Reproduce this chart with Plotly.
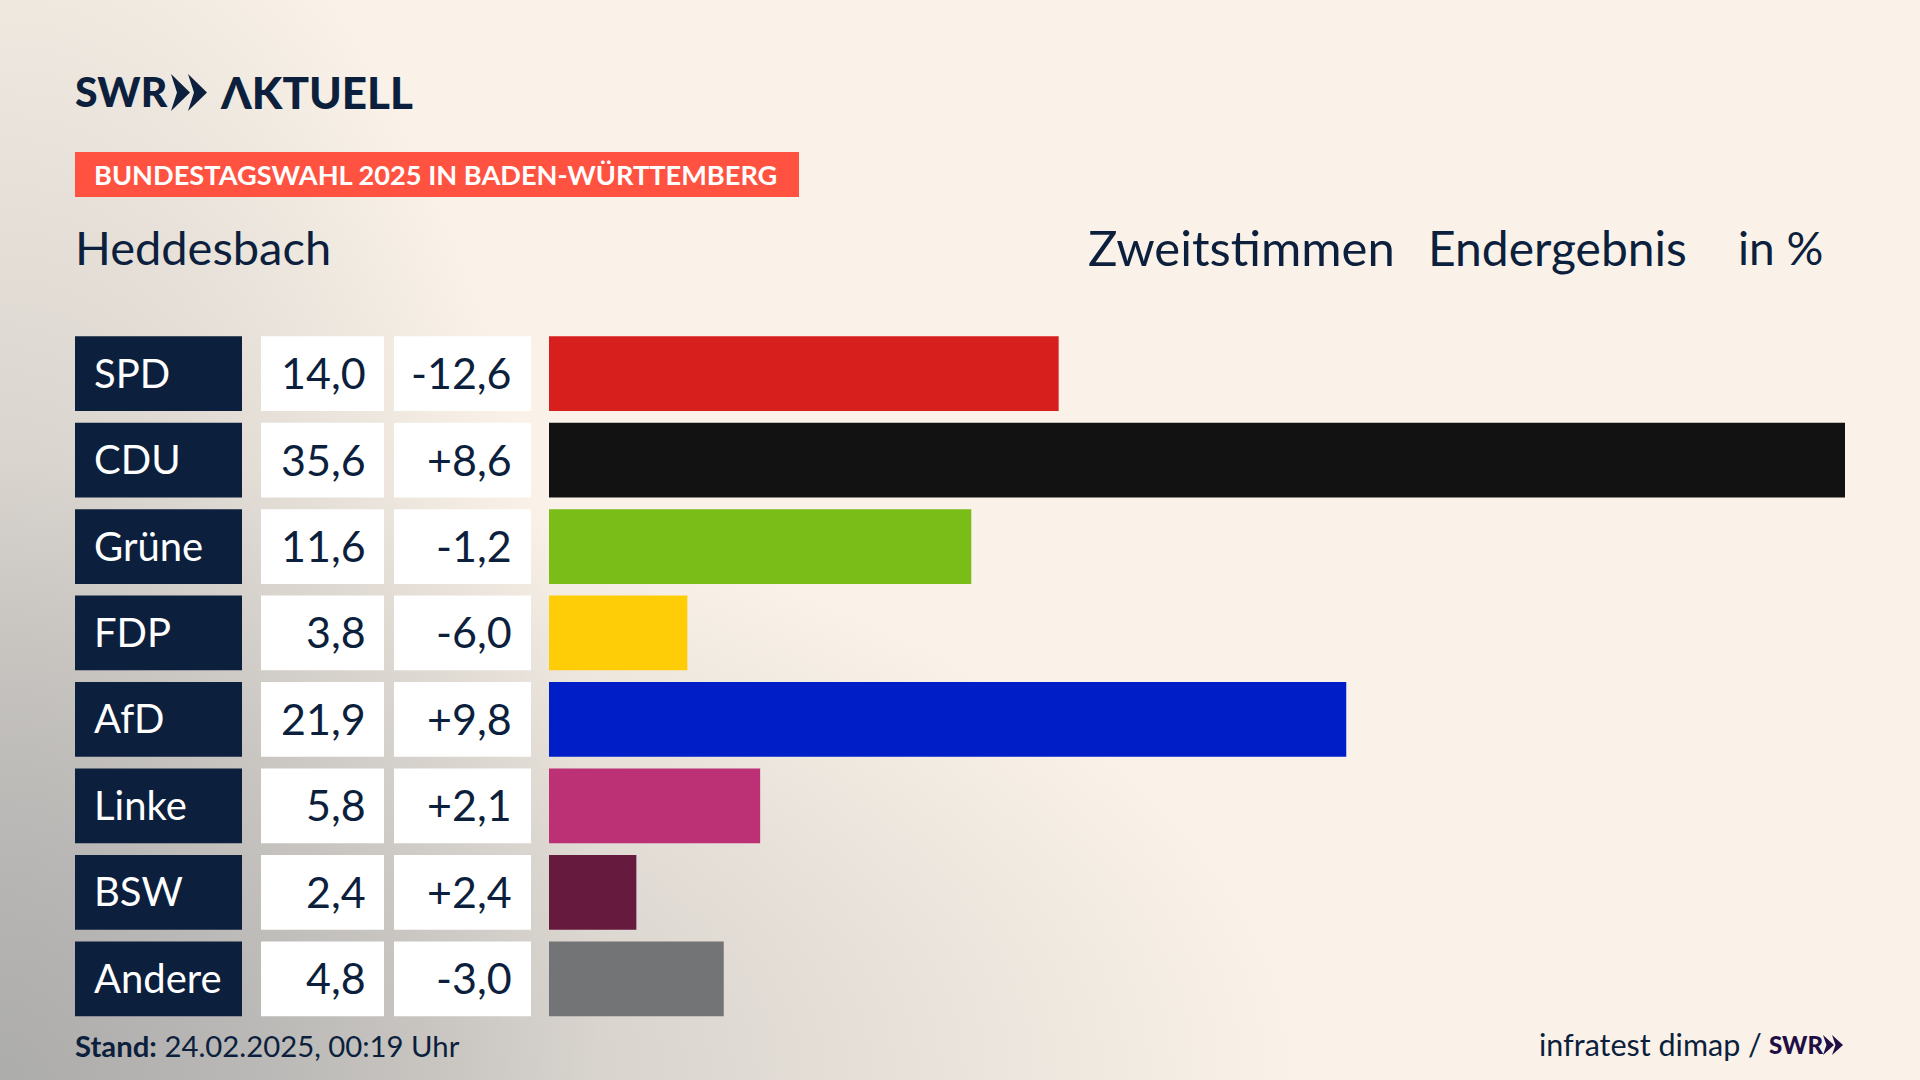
import base64
import plotly.graph_objects as go

# --- data ---
parties = ["SPD", "CDU", "Grüne", "FDP", "AfD", "Linke", "BSW", "Andere"]
results = [14.0, 35.6, 11.6, 3.8, 21.9, 5.8, 2.4, 4.8]
changes = [-12.6, 8.6, -1.2, -6.0, 9.8, 2.1, 2.4, -3.0]
party_colors = ["#D71F1D", "#121212", "#7ABD19", "#FFCC08", "#001EC8", "#BC3075", "#661A3D", "#737475"]

W, H = 1920, 1080
NAVY = "#0C1F3D"
FONT = "Lato"


def px(x):
    return x / W


def py(y):
    return 1 - y / H


def domx(a, b):
    return [px(a), px(b)]


def fmt(v, sign=False):
    s = f"{v:+.1f}" if sign else f"{v:.1f}"
    return s.replace(".", ",")


def text(x, y, s, size, color=NAVY, weight=400):
    return dict(x=px(x), y=py(y), xref="paper", yref="paper", text=s, showarrow=False,
                xanchor="left", yanchor="middle",
                font=dict(family=FONT, size=size, color=color, weight=weight))


def chevrons(x, y0, y1, w, notch, dx, color):
    ym = (y0 + y1) / 2
    out = []
    for xx in (x, x + dx):
        pts = [(xx, y0), (xx + w, ym), (xx, y1), (xx + notch, ym)]
        path = "M " + " L ".join(f"{px(a):.5f},{py(b):.5f}" for a, b in pts) + " Z"
        out.append(dict(type="path", xref="paper", yref="paper", path=path, fillcolor=color, line_width=0))
    return out


# background: grey haze along the left and bottom edges
stops = '<stop offset="0" stop-color="#a8a8a8" stop-opacity="0.75"/>' \
        '<stop offset="0.5" stop-color="#a8a8a8" stop-opacity="0.38"/>' \
        '<stop offset="1" stop-color="#a8a8a8" stop-opacity="0"/>'
svg = f"""<svg xmlns="http://www.w3.org/2000/svg" width="{W}" height="{H}">
<defs>
<radialGradient id="a" gradientUnits="userSpaceOnUse" cx="0" cy="0" r="1"
 gradientTransform="translate(0 {H}) scale(600 1300)">{stops}</radialGradient>
<radialGradient id="b" gradientUnits="userSpaceOnUse" cx="0" cy="0" r="1"
 gradientTransform="translate(0 {H}) scale(1300 620)">{stops}</radialGradient>
</defs>
<rect width="{W}" height="{H}" fill="#faf2e8"/>
<rect width="{W}" height="{H}" fill="url(#a)"/><rect width="{W}" height="{H}" fill="url(#b)"/></svg>"""
bg = "data:image/svg+xml;base64," + base64.b64encode(svg.encode()).decode()

fig = go.Figure()

# party bars
fig.add_trace(go.Bar(y=parties, x=results, orientation="h", marker=dict(color=party_colors, line_width=0),
                     xaxis="x", yaxis="y"))
# label and value cells
fig.add_trace(go.Bar(y=parties, x=[1] * len(parties), orientation="h", marker=dict(color=NAVY, line_width=0),
                     xaxis="x2", yaxis="y"))
fig.add_trace(go.Bar(y=parties, x=[1] * len(parties), orientation="h", marker=dict(color="white", line_width=0),
                     xaxis="x3", yaxis="y"))
fig.add_trace(go.Bar(y=parties, x=[1] * len(parties), orientation="h", marker=dict(color="white", line_width=0),
                     xaxis="x4", yaxis="y"))

annotations = []
for i, p in enumerate(parties):
    annotations.append(dict(x=0.11, y=p, xref="x2", yref="y", text=p, showarrow=False, xanchor="left",
                            xshift=-1, yshift=1, font=dict(family=FONT, size=40, color="white")))
    annotations.append(dict(x=0.85, y=p, xref="x3", yref="y", text=fmt(results[i]), showarrow=False, xanchor="right",
                            xshift=2, yshift=1, font=dict(family=FONT, size=43, color=NAVY)))
    annotations.append(dict(x=0.88, y=p, xref="x4", yref="y", text=fmt(changes[i], True), showarrow=False,
                            xanchor="right", xshift=-1, yshift=1, font=dict(family=FONT, size=43, color=NAVY)))

annotations += [
    text(73, 92, "SWR", 41, weight=900),
    text(218, 92, "ΛKTUELL", 44, weight=900),
    text(92, 175, "<b>BUNDESTAGSWAHL 2025 IN BADEN-WÜRTTEMBERG</b>", 27.2, "white"),
    text(73, 247, "Heddesbach", 47),
    text(1086, 247, "Zweitstimmen", 49),
    text(1426, 247, "Endergebnis", 48),
    text(1736, 247, "in %", 46),
    text(73, 1045, "<b>Stand:</b> 24.02.2025, 00:19 Uhr", 29.3),
    text(1537, 1044, "infratest dimap /", 30.5),
    text(1767, 1044, "SWR", 24, "#1F0F44", weight=900),
]

shapes = [dict(type="rect", xref="paper", yref="paper", x0=px(75), x1=px(799), y0=py(152), y1=py(197),
               fillcolor="#FF5240", line_width=0, layer="below")]
shapes += chevrons(171, 74, 111, 19, 6, 17, NAVY)
shapes += chevrons(1823, 1035, 1055, 11, 3.5, 9, "#1F0F44")

hidden = dict(visible=False, fixedrange=True)
fig.update_layout(
    width=W, height=H, margin=dict(l=0, r=0, t=0, b=0), showlegend=False,
    paper_bgcolor="#faf2e8", plot_bgcolor="rgba(0,0,0,0)", bargap=0.135,
    xaxis=dict(domain=domx(549, 1845), range=[0, 35.6], **hidden),
    xaxis2=dict(domain=domx(75, 242), range=[0, 1], anchor="y", **hidden),
    xaxis3=dict(domain=domx(261, 384), range=[0, 1], anchor="y", **hidden),
    xaxis4=dict(domain=domx(394, 531), range=[0, 1], anchor="y", **hidden),
    yaxis=dict(domain=[py(1022), py(330.4)], type="category", autorange="reversed", visible=False),
    annotations=annotations, shapes=shapes,
    images=[dict(source=bg, xref="paper", yref="paper", x=0, y=1, sizex=1, sizey=1, xanchor="left", yanchor="top",
                 sizing="stretch", layer="below")],
)

# browser default body margin would shift the picture by 8px
fig.write_html("out.html", config={"displayModeBar": False},
               post_script="document.body.style.margin='0';document.body.style.overflow='hidden';")
